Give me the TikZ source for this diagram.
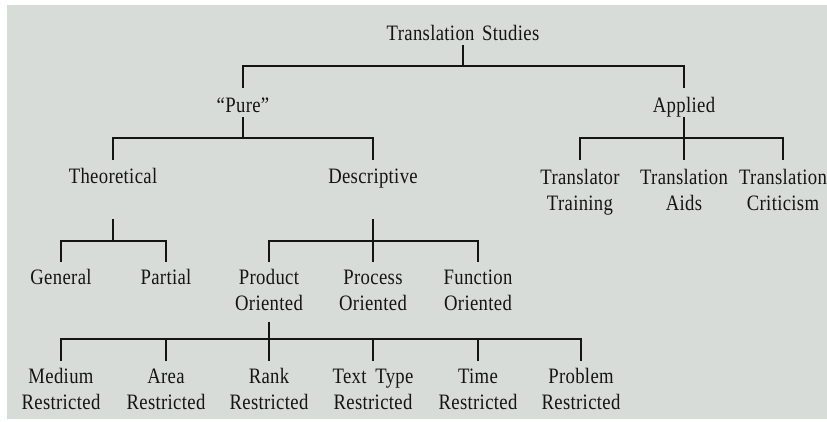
\documentclass[tikz,border=0pt]{standalone}
\usepackage{fontspec}
\setmainfont{Liberation Serif}[FakeStretch=0.85,LetterSpace=1.5]
\definecolor{panel}{HTML}{D8DCD8}
\definecolor{ink}{HTML}{141414}
\begin{document}
\begin{tikzpicture}[x=1pt,y=-1pt,
  lab/.style={inner sep=0pt,outer sep=0pt,anchor=base,text=ink,
    font=\fontsize{22}{26}\selectfont},
  conn/.style={draw=ink,line width=1.2pt}]
\useasboundingbox (0,0) rectangle (827,421);
\fill[white] (0,0) rectangle (827,421);
\fill[panel] (7,5) rectangle (827,419);
\renewcommand{\arraystretch}{1}
\newcommand{\two}[2]{\begin{tabular}[t]{@{}c@{}}#1\\#2\end{tabular}}
% nodes
\node[lab] (ts) at (463,40) {Translation\hspace{0.35em}Studies};
\node[lab] (pure) at (243,112) {``Pure''};
\node[lab] (appl) at (684,112) {Applied};
\node[lab] (theo) at (113,183) {Theoretical};
\node[lab] (desc) at (373,183) {Descriptive};
\node[lab] (trtr) at (580,184) {\two{Translator}{Training}};
\node[lab] (trai) at (684,184) {\two{Translation}{Aids}};
\node[lab] (trcr) at (783,184) {\two{Translation}{Criticism}};
\node[lab] (gen) at (61,284) {General};
\node[lab] (part) at (166,284) {Partial};
\node[lab] (prod) at (269,284) {\two{Product}{Oriented}};
\node[lab] (proc) at (373,284) {\two{Process}{Oriented}};
\node[lab] (func) at (478,284) {\two{Function}{Oriented}};
\node[lab] (med) at (61,383) {\two{Medium}{Restricted}};
\node[lab] (area) at (166,383) {\two{Area}{Restricted}};
\node[lab] (rank) at (269,383) {\two{Rank}{Restricted}};
\node[lab] (ttyp) at (373,383) {\two{Text\hspace{0.4em}Type}{Restricted}};
\node[lab] (time) at (478,383) {\two{Time}{Restricted}};
\node[lab] (prob) at (581,383) {\two{Problem}{Restricted}};
% connectors
\draw[conn] (ts.base |- 0,45) -- (ts.base |- 0,66);
\draw[conn] (ts.base |- 0,66) -| (pure.base |- 0,88);
\draw[conn] (ts.base |- 0,66) -| (appl.base |- 0,88);
\draw[conn] (pure.base |- 0,117) -- (pure.base |- 0,138);
\draw[conn] (pure.base |- 0,138) -| (theo.base |- 0,160);
\draw[conn] (pure.base |- 0,138) -| (desc.base |- 0,160);
\draw[conn] (appl.base |- 0,117) -- (trai.base |- 0,160);
\draw[conn] (appl.base |- 0,138) -| (trtr.base |- 0,160);
\draw[conn] (appl.base |- 0,138) -| (trcr.base |- 0,160);
\draw[conn] (theo.base |- 0,219) -- (theo.base |- 0,241);
\draw[conn] (theo.base |- 0,241) -| (gen.base |- 0,262);
\draw[conn] (theo.base |- 0,241) -| (part.base |- 0,262);
\draw[conn] (desc.base |- 0,219) -- (proc.base |- 0,262);
\draw[conn] (desc.base |- 0,241) -| (prod.base |- 0,262);
\draw[conn] (desc.base |- 0,241) -| (func.base |- 0,262);
\draw[conn] (prod.base |- 0,322) -- (rank.base |- 0,361);
\draw[conn] (prod.base |- 0,339) -| (med.base |- 0,361);
\draw[conn] (prod.base |- 0,339) -| (prob.base |- 0,361);
\draw[conn] (area.base |- 0,339) -- (area.base |- 0,361);
\draw[conn] (ttyp.base |- 0,339) -- (ttyp.base |- 0,361);
\draw[conn] (time.base |- 0,339) -- (time.base |- 0,361);
\end{tikzpicture}
\end{document}
